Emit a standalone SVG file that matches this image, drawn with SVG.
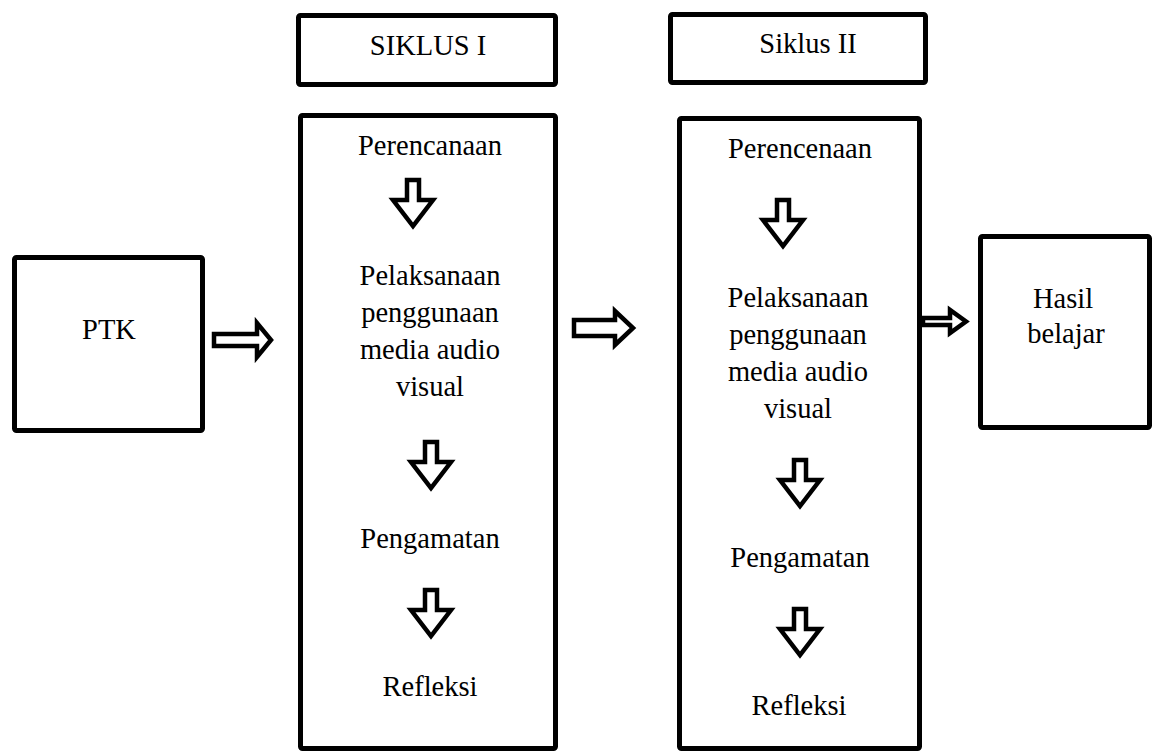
<svg xmlns="http://www.w3.org/2000/svg" width="1162" height="751" viewBox="0 0 1162 751">
<style>
.box{fill:#fff;stroke:#000;stroke-width:5;stroke-linejoin:round}
.t{font-family:"Liberation Serif","Tinos","Times New Roman","DejaVu Serif",serif;font-size:28.5px;fill:#000;text-anchor:middle}
.arr{fill:#fff;stroke:#000;stroke-width:4.5;stroke-linejoin:miter}
</style>
<defs>
<path id="down" class="arr" d="M-6,0 H6 V20 H20 L0,46 L-20,20 H-6 Z"/>
</defs>
<rect width="1162" height="751" fill="#fff"/>
<g id="ptk">
<rect class="box" x="14.5" y="257.5" width="188" height="173" rx="2"/>
<text class="t" x="109" y="339">PTK</text>
</g>
<g id="siklus1-title">
<rect class="box" x="298.5" y="15.5" width="257" height="69" rx="2"/>
<text class="t" x="428" y="55">SIKLUS I</text>
</g>
<g id="siklus2-title">
<rect class="box" x="670.5" y="14.5" width="255" height="68" rx="2"/>
<text class="t" x="808" y="53">Siklus II</text>
</g>
<g id="siklus1">
<rect class="box" x="300.5" y="115.5" width="255" height="633" rx="2"/>
<text class="t" x="430" y="155">Perencanaan</text>
<text class="t" x="430" y="285">Pelaksanaan</text>
<text class="t" x="430" y="322">penggunaan</text>
<text class="t" x="430" y="359">media audio</text>
<text class="t" x="430" y="396">visual</text>
<text class="t" x="430" y="548">Pengamatan</text>
<text class="t" x="430" y="696">Refleksi</text>
<use href="#down" transform="translate(413,180)"/>
<use href="#down" transform="translate(431,442)"/>
<use href="#down" transform="translate(431,590)"/>
</g>
<g id="siklus2">
<rect class="box" x="679.5" y="118.5" width="240" height="630" rx="2"/>
<text class="t" x="800" y="158">Perencenaan</text>
<text class="t" x="798" y="307">Pelaksanaan</text>
<text class="t" x="798" y="344">penggunaan</text>
<text class="t" x="798" y="381">media audio</text>
<text class="t" x="798" y="418">visual</text>
<text class="t" x="800" y="567">Pengamatan</text>
<text class="t" x="799" y="715">Refleksi</text>
<use href="#down" transform="translate(783,200)"/>
<use href="#down" transform="translate(800,460)"/>
<use href="#down" transform="translate(800,609)"/>
</g>
<g id="hasil">
<rect class="box" x="980.5" y="236.5" width="169" height="191" rx="2"/>
<text class="t" x="1063" y="308">Hasil</text>
<text class="t" x="1066" y="343">belajar</text>
</g>
<g id="connectors">
<path class="arr" d="M214,334 H257 V323 L271,340 L257,357 V346 H214 Z"/>
<path class="arr" d="M574,320 H615 V311 L633,328 L615,345 V336 H574 Z"/>
<path class="arr" d="M923,318 H950 V310 L966,321.5 L950,333 V325 H923 Z"/>
</g>
</svg>
